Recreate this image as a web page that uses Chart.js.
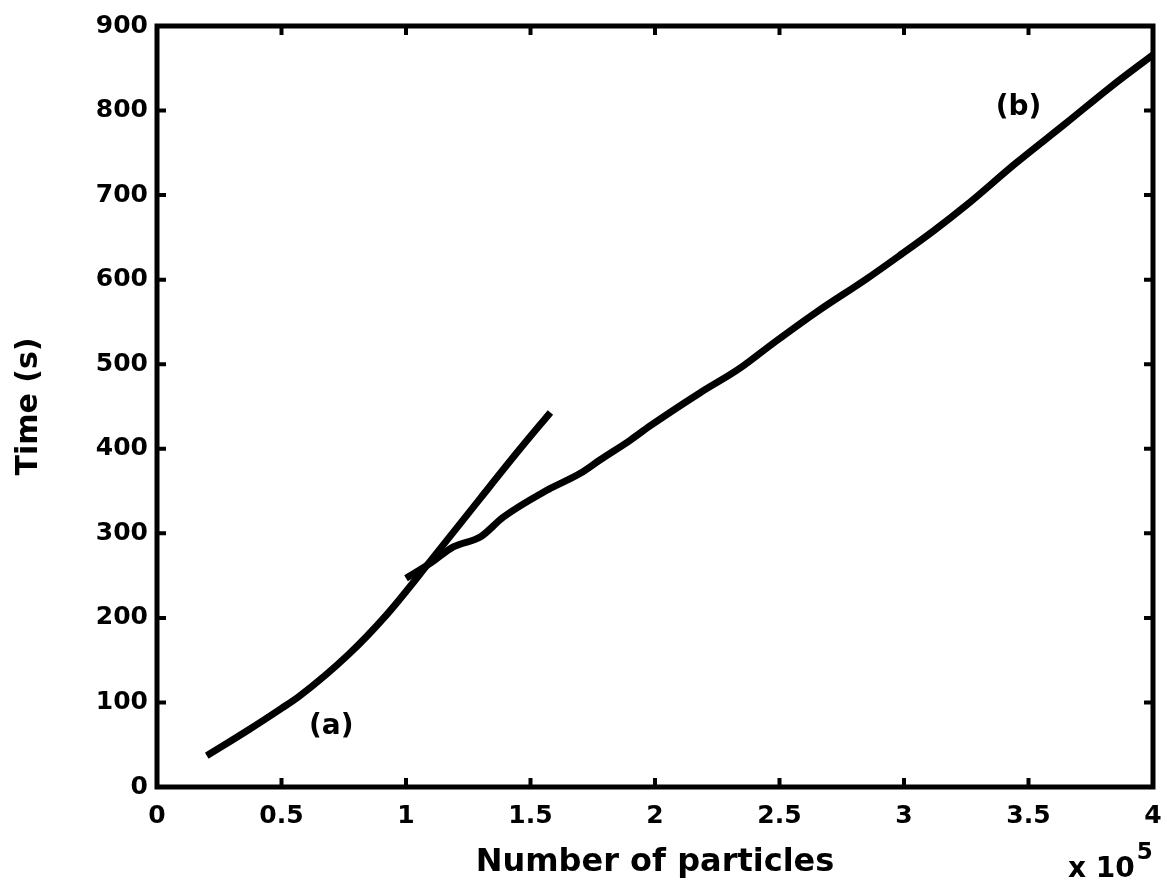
<!DOCTYPE html>
<html>
<head>
<meta charset="utf-8">
<script src="https://cdn.jsdelivr.net/npm/chart.js@4.4.1/dist/chart.umd.min.js"></script>
<style>
  html, body { margin: 0; padding: 0; background: #ffffff; }
  #wrap { width: 1167px; height: 888px; position: relative; }
</style>
</head>
<body>
<div id="wrap"><canvas id="chart" width="1167" height="888"></canvas></div>
<script>
// Run (a): time against particle count
const particlesA = [20000, 37000, 50000, 57000, 77000, 92000, 110000, 130000, 145000, 158000];
const timeA      = [37, 68, 93, 107, 157, 203, 268, 342, 397, 443];

// Run (b): time against particle count
const particlesB = [100000, 110000, 119000, 130000, 139000, 156000, 170000, 178000, 190000,
                    198000, 218000, 234000, 248000, 265000, 285000, 298000, 312000, 325000,
                    345000, 365000, 383000, 400000];
const timeB      = [247, 265, 284, 296, 319, 350, 371, 387, 410,
                    427, 466, 495, 526, 562, 601, 628, 658, 688,
                    738, 785, 828, 866];

// Axis ticks
const xTickValues = [0, 50000, 100000, 150000, 200000, 250000, 300000, 350000, 400000];
const yTickValues = [0, 100, 200, 300, 400, 500, 600, 700, 800, 900];

// Curve names
const curveNames = ['(a)', '(b)'];

const FONT = 'DejaVu Sans';

const toPoints = (xs, ys) => xs.map((x, i) => ({ x: x, y: ys[i] }));

// Box frame, inward ticks on all four sides, curve names and the axis multiplier
const framePlugin = {
  id: 'frame',
  afterDraw(chart) {
    const { ctx, chartArea: a, scales } = chart;
    const xs = scales.x, ys = scales.y;
    ctx.save();
    ctx.strokeStyle = '#000';
    ctx.lineJoin = 'miter';
    ctx.lineWidth = 5;
    ctx.strokeRect(a.left, a.top, a.right - a.left, a.bottom - a.top);

    ctx.lineWidth = 4;
    const tl = 9;
    ctx.beginPath();
    xTickValues.forEach(v => {
      const px = xs.getPixelForValue(v);
      if (px <= a.left + 1 || px >= a.right - 1) return;
      ctx.moveTo(px, a.bottom); ctx.lineTo(px, a.bottom - tl);
      ctx.moveTo(px, a.top);    ctx.lineTo(px, a.top + tl);
    });
    yTickValues.forEach(v => {
      const py = ys.getPixelForValue(v);
      if (py <= a.top + 1 || py >= a.bottom - 1) return;
      ctx.moveTo(a.left, py);  ctx.lineTo(a.left + tl, py);
      ctx.moveTo(a.right, py); ctx.lineTo(a.right - tl, py);
    });
    ctx.stroke();

    // curve names
    ctx.fillStyle = '#000';
    ctx.font = 'bold 28px "' + FONT + '"';
    ctx.textAlign = 'center';
    ctx.textBaseline = 'middle';
    ctx.fillText(curveNames[0], xs.getPixelForValue(70000), ys.getPixelForValue(71));
    ctx.fillText(curveNames[1], xs.getPixelForValue(346000), ys.getPixelForValue(803));

    // x-axis multiplier: x 10^5
    ctx.textAlign = 'left';
    ctx.textBaseline = 'alphabetic';
    ctx.font = 'bold 28px "' + FONT + '"';
    const base = 'x 10';
    const bx = 1068, by = 877;
    ctx.fillText(base, bx, by);
    const w = ctx.measureText(base).width;
    ctx.font = 'bold 23px "' + FONT + '"';
    ctx.fillText('5', bx + w + 2, by - 18);
    ctx.restore();
  }
};

new Chart(document.getElementById('chart'), {
  type: 'line',
  data: {
    datasets: [
      {
        label: curveNames[0],
        data: toPoints(particlesA, timeA),
        borderColor: '#000',
        borderWidth: 7,
        borderCapStyle: 'butt',
        pointRadius: 0,
        cubicInterpolationMode: 'monotone',
        fill: false
      },
      {
        label: curveNames[1],
        data: toPoints(particlesB, timeB),
        borderColor: '#000',
        borderWidth: 7,
        borderCapStyle: 'butt',
        pointRadius: 0,
        cubicInterpolationMode: 'monotone',
        fill: false
      }
    ]
  },
  options: {
    responsive: false,
    devicePixelRatio: 1,
    animation: false,
    layout: { padding: { top: 26, right: 14, left: 0, bottom: 0 } },
    plugins: {
      legend: { display: false },
      tooltip: { enabled: false }
    },
    scales: {
      x: {
        type: 'linear',
        min: 0,
        max: 400000,
        afterBuildTicks: s => { s.ticks = xTickValues.map(v => ({ value: v })); },
        afterFit: s => { s.height = 101; s.paddingLeft = 0; s.paddingRight = 0; },
        grid: { display: false, drawTicks: false },
        border: { display: false },
        ticks: {
          color: '#000',
          font: { family: FONT, size: 25, weight: 'bold' },
          padding: 14,
          maxRotation: 0,
          autoSkip: false,
          callback: v => String(v / 100000)
        },
        title: {
          display: true,
          text: 'Number of particles',
          color: '#000',
          font: { family: FONT, size: 32, weight: 'bold' },
          padding: { top: 0, bottom: 6 }
        }
      },
      y: {
        type: 'linear',
        min: 0,
        max: 900,
        afterBuildTicks: s => { s.ticks = yTickValues.map(v => ({ value: v })); },
        afterFit: s => { s.width = 157; s.paddingTop = 0; s.paddingBottom = 0; },
        grid: { display: false, drawTicks: false },
        border: { display: false },
        ticks: {
          color: '#000',
          font: { family: FONT, size: 25, weight: 'bold' },
          padding: 9,
          autoSkip: false
        },
        title: {
          display: true,
          text: 'Time (s)',
          color: '#000',
          font: { family: FONT, size: 30, weight: 'bold' },
          padding: { top: 11, bottom: 0 }
        }
      }
    }
  },
  plugins: [framePlugin]
});
</script>
</body>
</html>
